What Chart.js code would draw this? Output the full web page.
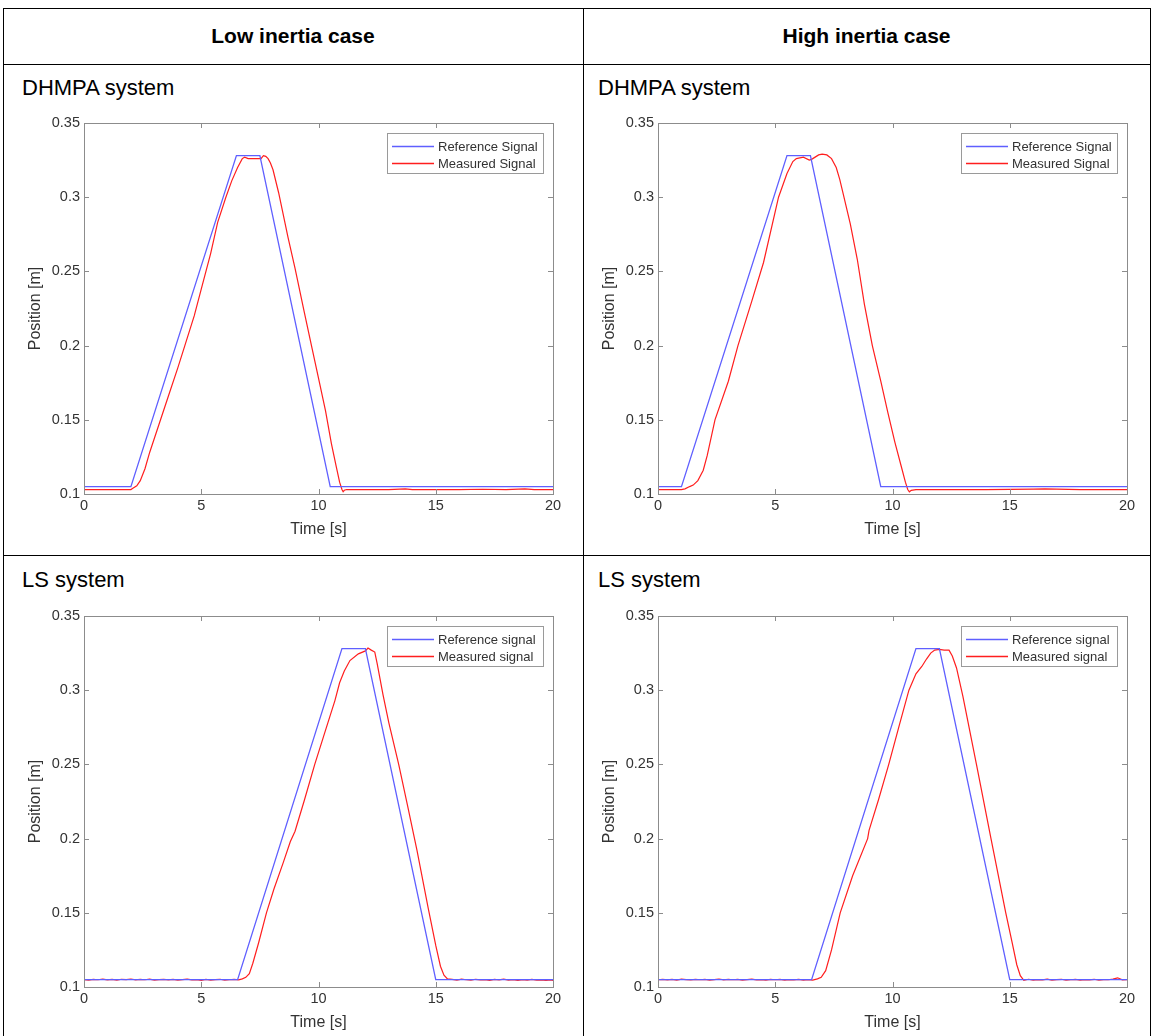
<!DOCTYPE html>
<html><head><meta charset="utf-8">
<script src="https://cdn.jsdelivr.net/npm/chart.js@4.4.1/dist/chart.umd.min.js"></script>
<style>
html,body{margin:0;padding:0;background:#fff;}
#page{position:relative;width:1153px;height:1036px;overflow:hidden;font-family:"Liberation Sans",Arial,sans-serif;background:#fff;}
.hl{position:absolute;height:0;border-top:1px solid #000;}
.vl{position:absolute;width:0;border-left:1px solid #000;}
.hdr{position:absolute;font-weight:bold;font-size:21px;text-align:center;line-height:24px;color:#000;}
.sub{position:absolute;font-size:22px;line-height:24px;color:#000;white-space:nowrap;}
.cv{position:absolute;}
</style></head><body>
<div id="page">
  <div class="hl" style="left:3px;top:8px;width:1147px"></div>
  <div class="hl" style="left:3px;top:64px;width:1147px"></div>
  <div class="hl" style="left:3px;top:555px;width:1147px"></div>
  <div class="vl" style="left:3px;top:8px;height:1030px"></div>
  <div class="vl" style="left:583px;top:8px;height:1030px"></div>
  <div class="vl" style="left:1150px;top:8px;height:1030px"></div>
  <div class="hdr" style="left:3px;width:580px;top:24px">Low inertia case</div>
  <div class="hdr" style="left:583px;width:567px;top:24px">High inertia case</div>
  <div class="sub" style="left:22px;top:76px">DHMPA system</div>
  <div class="sub" style="left:598px;top:76px">DHMPA system</div>
  <div class="sub" style="left:22px;top:568px">LS system</div>
  <div class="sub" style="left:598px;top:568px">LS system</div>
  <canvas id="cA" class="cv" width="578" height="454" style="left:4px;top:100px"></canvas>
  <canvas id="cB" class="cv" width="565" height="454" style="left:584px;top:100px"></canvas>
  <canvas id="cC" class="cv" width="578" height="443" style="left:4px;top:592px"></canvas>
  <canvas id="cD" class="cv" width="565" height="443" style="left:584px;top:592px"></canvas>
</div>
<script>
// ---------- tick labels ----------
const xTickValues = [0, 5, 10, 15, 20];
const xTickLabels = ['0', '5', '10', '15', '20'];
const yTickValues = [0.1, 0.15, 0.2, 0.25, 0.3, 0.35];
const yTickLabels = ['0.1', '0.15', '0.2', '0.25', '0.3', '0.35'];

// ---------- DHMPA, low inertia ----------
const refA_t = [0, 2, 6.5, 7.5, 10.5, 20];
const refA_y = [0.105, 0.105, 0.328, 0.328, 0.105, 0.105];
const measA_t = [0, 1, 2, 2.1, 2.25, 2.4, 2.6, 2.8, 3.2, 3.6, 4.0, 4.3, 4.7, 5.0, 5.4, 5.7, 6.05, 6.3, 6.55, 6.75,
  6.85, 7.0, 7.3, 7.55, 7.65, 7.75, 7.85, 7.95, 8.06, 8.3, 8.7, 9.0, 9.4, 9.7, 10.0, 10.3, 10.55, 10.75, 10.9, 11.0,
  11.05, 11.1, 11.2, 12, 13, 13.7, 14, 15, 16, 17, 18, 18.8, 19.2, 20];
const measA_y = [0.103, 0.103, 0.103, 0.104, 0.1055, 0.109, 0.117, 0.128, 0.147, 0.166, 0.185, 0.2, 0.22, 0.238, 0.262, 0.283, 0.300, 0.311, 0.320, 0.326,
  0.327, 0.326, 0.326, 0.326, 0.328, 0.3275, 0.326, 0.323, 0.3185, 0.303, 0.273, 0.252, 0.222, 0.200, 0.178, 0.156, 0.134, 0.119, 0.108, 0.103,
  0.1015, 0.1025, 0.103, 0.103, 0.103, 0.1035, 0.103, 0.103, 0.103, 0.1032, 0.103, 0.1035, 0.103, 0.103];

// ---------- DHMPA, high inertia ----------
const refB_t = [0, 1, 5.5, 6.5, 9.5, 20];
const refB_y = [0.105, 0.105, 0.328, 0.328, 0.105, 0.105];
const measB_t = [0, 1.0, 1.15, 1.35, 1.5, 1.7, 1.93, 2.1, 2.43, 3.0, 3.41, 4.0, 4.5, 5.14, 5.5, 5.75, 5.9, 6.2, 6.45, 6.55,
  6.7, 6.85, 7.0, 7.2, 7.4, 7.6, 7.75, 7.9, 8.2, 8.5, 8.8, 9.14, 9.5, 9.8, 10.1, 10.4, 10.55, 10.65, 10.72, 10.8,
  11, 12, 14, 16, 16.5, 18, 20];
const measB_y = [0.103, 0.103, 0.1035, 0.105, 0.106, 0.109, 0.116, 0.126, 0.150, 0.176, 0.200, 0.230, 0.256, 0.300, 0.316, 0.324, 0.326, 0.327, 0.325, 0.3255,
  0.327, 0.3285, 0.329, 0.3285, 0.326, 0.320, 0.312, 0.302, 0.282, 0.258, 0.228, 0.200, 0.176, 0.155, 0.135, 0.117, 0.108, 0.103, 0.1015, 0.1025,
  0.103, 0.103, 0.103, 0.1033, 0.1035, 0.103, 0.103];

// ---------- LS, low inertia ----------
const refC_t = [0, 6.55, 11.0, 12.0, 15.0, 20];
const refC_y = [0.105, 0.105, 0.328, 0.328, 0.105, 0.105];
const measC_t = [0, 0.2, 0.4, 0.6, 0.8, 1, 1.2, 1.4, 1.6, 1.8, 2, 2.2, 2.4, 2.6, 2.8, 3, 3.2, 3.4, 3.6, 3.8, 4, 4.2, 4.4, 4.6, 4.8, 5, 5.2, 5.4, 5.6, 5.8, 6, 6.2, 6.4, 6.6,
  6.75, 6.9, 7.05, 7.2, 7.45, 7.78, 8.1, 8.5, 8.8, 9.0, 9.4, 9.84, 10.2, 10.5, 10.7, 10.9, 11.1, 11.34, 11.7, 12.0, 12.11, 12.25, 12.4, 12.5, 12.75, 13.0, 13.42, 13.8, 14.2, 14.68, 15.0, 15.2, 15.35, 15.5,
  15.7, 15.9, 16.1, 16.3, 16.5, 16.7, 16.9, 17.1, 17.3, 17.5, 17.7, 17.9, 18.1, 18.3, 18.5, 18.7, 18.9, 19.1, 19.3, 19.5, 19.7, 19.9, 20];
const measC_y = [0.1050, 0.1047, 0.1052, 0.1049, 0.1053, 0.1048, 0.1051, 0.1046, 0.1052, 0.1050, 0.1054, 0.1048, 0.1051, 0.1049, 0.1053, 0.1047, 0.1050, 0.1052, 0.1048, 0.1051, 0.1046, 0.1050, 0.1053, 0.1048, 0.1049, 0.1045, 0.1051, 0.1047, 0.1050, 0.1052, 0.1046, 0.1049, 0.1051, 0.1048,
  0.1055, 0.1065, 0.109, 0.116, 0.130, 0.150, 0.166, 0.184, 0.198, 0.205, 0.226, 0.250, 0.268, 0.283, 0.293, 0.305, 0.313, 0.320, 0.3245, 0.3265, 0.3284, 0.327, 0.3257, 0.318, 0.297, 0.278, 0.250, 0.222, 0.192, 0.153, 0.128, 0.114, 0.108, 0.1055,
  0.1051, 0.1047, 0.1053, 0.1049, 0.1046, 0.1052, 0.1048, 0.1050, 0.1045, 0.1051, 0.1048, 0.1053, 0.1047, 0.1049, 0.1044, 0.1050, 0.1047, 0.1051, 0.1046, 0.1048, 0.1044, 0.1047, 0.1045];

// ---------- LS, high inertia ----------
const refD_t = [0, 6.55, 11.0, 12.0, 15.0, 20];
const refD_y = [0.105, 0.105, 0.328, 0.328, 0.105, 0.105];
const measD_t = [0, 0.2, 0.4, 0.6, 0.8, 1, 1.2, 1.4, 1.6, 1.8, 2, 2.2, 2.4, 2.6, 2.8, 3, 3.2, 3.4, 3.6, 3.8, 4, 4.2, 4.4, 4.6, 4.8, 5, 5.2, 5.4, 5.6, 5.8, 6, 6.2, 6.4, 6.6,
  6.8, 6.96, 7.15, 7.4, 7.77, 8.3, 8.94, 9.0, 9.4, 9.84, 10.3, 10.7, 11.0, 11.25, 11.45, 11.63, 11.8, 12.0, 12.2, 12.41, 12.55, 12.73, 13.0, 13.58, 14.2, 14.83, 15.1, 15.3, 15.45, 15.6,
  15.8, 16, 16.2, 16.4, 16.6, 16.8, 17, 17.2, 17.4, 17.6, 17.8, 18, 18.2, 18.4, 18.6, 18.8, 19, 19.2, 19.4, 19.6, 19.8, 20];
const measD_y = [0.1049, 0.1052, 0.1048, 0.1051, 0.1047, 0.1053, 0.1050, 0.1048, 0.1052, 0.1049, 0.1051, 0.1047, 0.1050, 0.1054, 0.1048, 0.1051, 0.1049, 0.1052, 0.1047, 0.1050, 0.1053, 0.1048, 0.1050, 0.1046, 0.1051, 0.1049, 0.1052, 0.1047, 0.1050, 0.1048, 0.1051, 0.1046, 0.1049, 0.1047,
  0.1055, 0.1065, 0.111, 0.125, 0.150, 0.175, 0.200, 0.2055, 0.226, 0.250, 0.277, 0.300, 0.311, 0.316, 0.321, 0.325, 0.327, 0.3275, 0.327, 0.327, 0.323, 0.315, 0.296, 0.250, 0.200, 0.150, 0.130, 0.115, 0.1076, 0.1045,
  0.1052, 0.1046, 0.1050, 0.1048, 0.1053, 0.1047, 0.1050, 0.1052, 0.1046, 0.1049, 0.1051, 0.1047, 0.1050, 0.1048, 0.1052, 0.1046, 0.1050, 0.1049, 0.1053, 0.1062, 0.1048, 0.1050];

const FONT = '"Liberation Sans", Arial, Helvetica, sans-serif';
const TEXT = '#333333';
const BOX = '#8c8c8c';
const BLUE = 'rgb(95,95,255)';
const RED = 'rgb(255,30,30)';
const SERIES_COLORS = [BLUE, RED];
const TICK_SIZE = 14.5, TITLE_SIZE = 16, LEGEND_SIZE = 13;

function pts(t, y) { return t.map((v, i) => ({ x: v, y: y[i] })); }

const boxPlugin = {
  id: 'matlabBox',
  afterDatasetsDraw(chart) {
    const { ctx, chartArea: a, scales } = chart;
    ctx.save();
    ctx.strokeStyle = BOX; ctx.lineWidth = 1;
    ctx.strokeRect(Math.round(a.left) + 0.5, Math.round(a.top) + 0.5, Math.round(a.right - a.left), Math.round(a.bottom - a.top));
    const L = 5;
    ctx.beginPath();
    xTickValues.forEach(v => {
      const px = Math.round(scales.x.getPixelForValue(v)) + 0.5;
      ctx.moveTo(px, a.bottom); ctx.lineTo(px, a.bottom - L);
      ctx.moveTo(px, a.top); ctx.lineTo(px, a.top + L);
    });
    yTickValues.forEach(v => {
      const py = Math.round(scales.y.getPixelForValue(v)) + 0.5;
      ctx.moveTo(a.left, py); ctx.lineTo(a.left + L, py);
      ctx.moveTo(a.right, py); ctx.lineTo(a.right - L, py);
    });
    ctx.stroke();
    ctx.restore();
  },
  afterDraw(chart) {
    const { ctx, chartArea: a } = chart;
    const ds = chart.data.datasets;
    const w = 156, h = 40;
    const x0 = Math.round(a.right - 10 - w), y0 = Math.round(a.top + 10);
    ctx.save();
    ctx.fillStyle = '#fff'; ctx.fillRect(x0, y0, w, h);
    ctx.strokeStyle = '#9a9a9a'; ctx.lineWidth = 1; ctx.strokeRect(x0 + 0.5, y0 + 0.5, w, h);
    ctx.font = LEGEND_SIZE + 'px ' + FONT;
    ctx.textBaseline = 'middle'; ctx.textAlign = 'left';
    ds.forEach((d, i) => {
      const yy = y0 + 13 + i * 17;
      ctx.strokeStyle = SERIES_COLORS[i]; ctx.lineWidth = 1.3;
      ctx.beginPath(); ctx.moveTo(x0 + 5, yy + 0.5); ctx.lineTo(x0 + 47, yy + 0.5); ctx.stroke();
      ctx.fillStyle = TEXT;
      ctx.fillText(d.label, x0 + 51, yy + 1);
    });
    ctx.restore();
  }
};

function makeChart(id, canvasLeft, canvasTop, plot, refT, refY, measT, measY, refLabel, measLabel) {
  const cv = document.getElementById(id);
  const W = cv.width, H = cv.height;
  const yW = plot.l - canvasLeft;
  const xH = H - (plot.b - canvasTop);
  const lh = TITLE_SIZE * 1.2;
  return new Chart(cv, {
    type: 'line',
    data: {
      datasets: [
        { label: refLabel, data: pts(refT, refY), borderColor: SERIES_COLORS[0], borderWidth: 1.3, pointRadius: 0, tension: 0 },
        { label: measLabel, data: pts(measT, measY), borderColor: SERIES_COLORS[1], borderWidth: 1.2, pointRadius: 0, tension: 0 }
      ]
    },
    options: {
      responsive: false, animation: false, devicePixelRatio: 1,
      layout: { padding: { left: 0, top: plot.t - canvasTop, right: W - (plot.r - canvasLeft), bottom: 0 } },
      plugins: { legend: { display: false }, tooltip: { enabled: false } },
      scales: {
        x: {
          type: 'linear', min: 0, max: 20,
          afterFit(s) { s.height = xH; },
          afterBuildTicks(s) { s.ticks = xTickValues.map(v => ({ value: v })); },
          grid: { display: false, drawTicks: false },
          border: { display: false },
          ticks: { padding: 3, color: TEXT, font: { family: FONT, size: TICK_SIZE }, maxRotation: 0,
            callback: (v) => xTickLabels[xTickValues.indexOf(v)] },
          title: { display: true, text: 'Time [s]', color: TEXT, font: { family: FONT, size: TITLE_SIZE },
            padding: { top: 0, bottom: xH - 35.5 - lh / 2 } }
        },
        y: {
          type: 'linear', min: 0.1, max: 0.35,
          afterFit(s) { s.width = yW; },
          afterBuildTicks(s) { s.ticks = yTickValues.map(v => ({ value: v })); },
          grid: { display: false, drawTicks: false },
          border: { display: false },
          ticks: { padding: 4, color: TEXT, font: { family: FONT, size: TICK_SIZE },
            callback: (v) => { const i = yTickValues.findIndex(t => Math.abs(t - v) < 1e-9); return i >= 0 ? yTickLabels[i] : ''; } },
          title: { display: true, text: 'Position [m]', color: TEXT, font: { family: FONT, size: TITLE_SIZE },
            padding: { top: yW - 48 - lh / 2, bottom: 0 } }
        }
      }
    },
    plugins: [boxPlugin]
  });
}

makeChart('cA', 4, 100, { l: 84, r: 553, t: 123, b: 494 }, refA_t, refA_y, measA_t, measA_y, 'Reference Signal', 'Measured Signal');
makeChart('cB', 584, 100, { l: 658, r: 1127, t: 123, b: 494 }, refB_t, refB_y, measB_t, measB_y, 'Reference Signal', 'Measured Signal');
makeChart('cC', 4, 592, { l: 84, r: 553, t: 616, b: 987 }, refC_t, refC_y, measC_t, measC_y, 'Reference signal', 'Measured signal');
makeChart('cD', 584, 592, { l: 658, r: 1127, t: 616, b: 987 }, refD_t, refD_y, measD_t, measD_y, 'Reference signal', 'Measured signal');
</script>
</body></html>
